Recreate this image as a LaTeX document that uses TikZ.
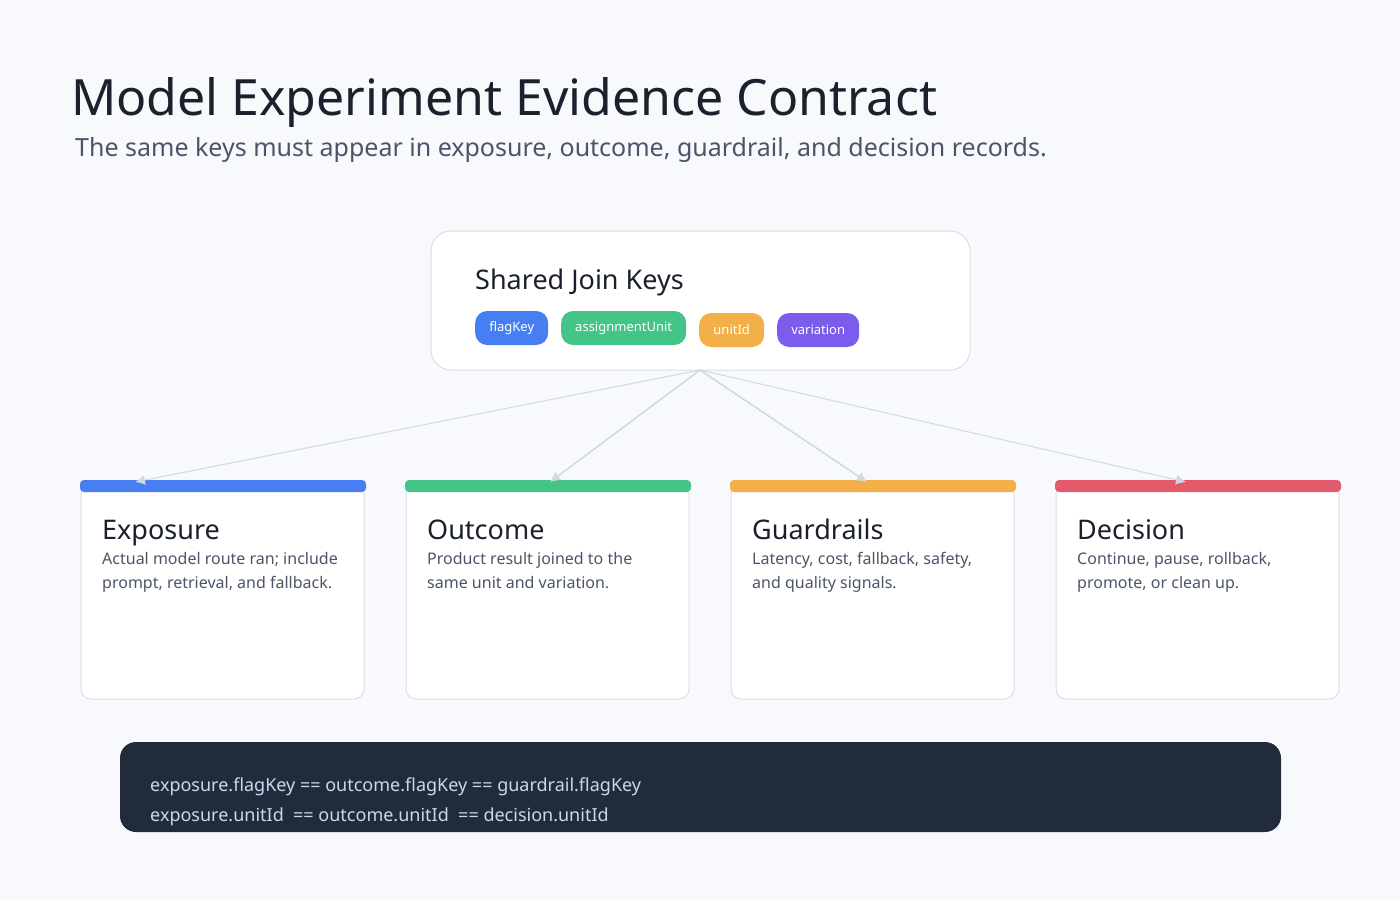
\documentclass[tikz,border=0pt]{standalone}
\usepackage{fontspec}
\setmainfont{Noto Sans}
\usetikzlibrary{arrows.meta}
\definecolor{bg}{HTML}{F7F9FC}
\definecolor{ink}{HTML}{1A202C}
\definecolor{sub}{HTML}{4A5568}
\definecolor{edge}{HTML}{D8DFE8}
\definecolor{arr}{HTML}{D0D8E2}
\definecolor{cblue}{HTML}{477EF2}
\definecolor{cgreen}{HTML}{45C487}
\definecolor{corange}{HTML}{F3AF48}
\definecolor{cpurple}{HTML}{7B5CED}
\definecolor{cred}{HTML}{E35A6C}
\definecolor{codebg}{HTML}{212B3B}
\definecolor{codefg}{HTML}{C9D8EC}
\begin{document}
\begin{tikzpicture}[x=1pt,y=-1pt,>=latex,line join=bevel,
  card/.style={draw=edge,fill=white,rounded corners=10pt,line width=1pt},
  chip/.style={rounded corners=12pt,text=white,font=\fontsize{13}{15}\selectfont,minimum height=34pt,inner xsep=13pt,anchor=west},
  link/.style={draw=arr,line width=1.5pt,-{Latex[length=10pt,width=10pt]}},
  ctitle/.style={anchor=base west,font=\fontsize{27}{32}\bfseries\selectfont,text=ink},
  cbody/.style={anchor=north west,align=left,font=\fontsize{16}{24}\selectfont,text=sub}]
\useasboundingbox[fill=bg] (0,0) rectangle (1400,900);
%%
\node[anchor=base west,text=ink,font=\fontsize{50}{56}\bfseries\selectfont,inner sep=0] (title) at (71,115) {Model Experiment Evidence Contract};
\node[anchor=base west,text=sub,font=\fontsize{25}{30}\selectfont,inner sep=0] (subtitle) at (75,156) {The same keys must appear in exposure, outcome, guardrail, and decision records.};
%
\draw[card,rounded corners=20pt] (431,231) rectangle (970,370);
\node (shared) at (700,370) {};
\node[anchor=base west,text=ink,font=\fontsize{27}{32}\bfseries\selectfont,inner sep=0] at (475,289) {Shared Join Keys};
\node[chip,fill=cblue,minimum width=73pt] (k1) at (475,328) {flagKey};
\node[chip,fill=cgreen,minimum width=125pt] (k2) at (561,328) {assignmentUnit};
\node[chip,fill=corange,minimum width=65pt] (k3) at (699,330) {unitId};
\node[chip,fill=cpurple,minimum width=82pt] (k4) at (777,330) {variation};
%
\foreach \x/\c/\t/\b/\n in {80/cblue/Exposure/{Actual model route ran; include\\prompt, retrieval, and fallback.}/expo,
    405/cgreen/Outcome/{Product result joined to the\\same unit and variation.}/outc,
    730/corange/Guardrails/{Latency, cost, fallback, safety,\\and quality signals.}/guard,
    1055/cred/Decision/{Continue, pause, rollback,\\promote, or clean up.}/deci}{
  \draw[card] (\x+1,484) rectangle (\x+284,699);
  \fill[\c,rounded corners=4pt] (\x,480) rectangle (\x+286,492);
  \node[ctitle,inner sep=0] at (\x+22,539) {\t};
  \node[cbody,inner sep=0] at (\x+22,552) {\b};
  \coordinate (\n) at (\x+143,482);
}
\draw[link,line width=1pt] (shared.center) -- ([xshift=-88pt]expo);
\draw[link] (shared.center) -- ([xshift=2pt]outc);
\draw[link] (shared.center) -- ([xshift=-6pt]guard);
\draw[link,line width=1pt] (shared.center) -- ([xshift=-12pt]deci);
%
\fill[codebg,rounded corners=16pt] (120,742) rectangle (1281,832);
\node[anchor=base west,text=codefg,font=\fontsize{18}{22}\selectfont,inner sep=0] at (150,791) {exposure.flagKey == outcome.flagKey == guardrail.flagKey};
\node[anchor=base west,text=codefg,font=\fontsize{18}{22}\selectfont,inner sep=0] at (150,821) {exposure.unitId\ \ == outcome.unitId\ \ == decision.unitId};
%
\end{tikzpicture}
\end{document}
